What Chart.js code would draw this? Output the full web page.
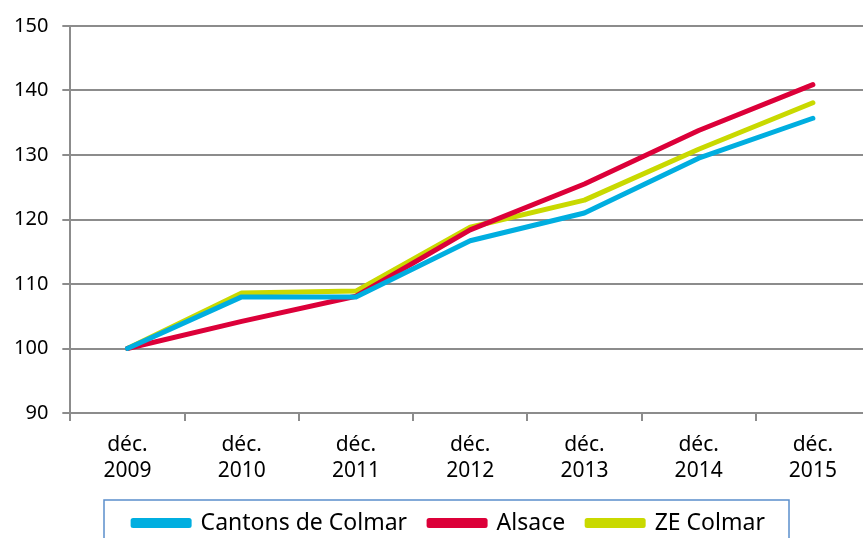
<!DOCTYPE html>
<html>
<head>
<meta charset="utf-8">
<script src="https://cdn.jsdelivr.net/npm/chart.js@4"></script>
<style>
  html, body { margin: 0; padding: 0; background: #fff; overflow: hidden; }
  #wrap { width: 870px; height: 570px; }
</style>
</head>
<body>
<div id="wrap"><canvas id="chart" width="870" height="570"></canvas></div>
<script>
// Data
const years = ['2009', '2010', '2011', '2012', '2013', '2014', '2015'];
const cantonsColmar = [100, 108.0, 108.0, 116.7, 121.0, 129.5, 135.7];
const alsace = [100, 104.2, 108.1, 118.4, 125.5, 133.8, 140.9];
const zeColmar = [100, 108.6, 108.9, 118.8, 123.0, 130.9, 138.1];
const yTicks = [90, 100, 110, 120, 130, 140, 150];

const labels = years.map(y => ['déc.', y]);

function makeDataset(label, data, color) {
    return {
        label: label,
        data: data,
        borderColor: color,
        backgroundColor: color,
        borderWidth: 5,
        borderCapStyle: 'round',
        borderJoinStyle: 'round',
        pointRadius: 0,
        tension: 0
    };
}

// legend sits a bit right of centre in the original, and has a frame
const legendFrame = {
    id: 'legendFrame',
    afterLayout(chart) {
        chart.legend.left += 14;
        chart.legend.right += 14;
    },
    afterDraw(chart) {
        const lg = chart.legend;
        const ctx = chart.ctx;
        ctx.save();
        ctx.strokeStyle = '#5b8fcc';
        ctx.lineWidth = 1.5;
        ctx.strokeRect(104, lg.top + 10.5, 685, lg.height + 20);
        ctx.restore();
    }
};

const gridColor = '#8c8c8c';

new Chart(document.getElementById('chart').getContext('2d'), {
    type: 'line',
    data: {
        labels: labels,
        datasets: [
            makeDataset('Cantons de Colmar', cantonsColmar, '#00aee0'),
            makeDataset('Alsace', alsace, '#dc0039'),
            makeDataset('ZE Colmar', zeColmar, '#c9d900')
        ]
    },
    options: {
        responsive: false,
        animation: false,
        layout: {
            padding: { top: 18, right: 0, left: 0, bottom: 25.5 }
        },
        scales: {
            x: {
                offset: true,
                afterFit(scale) {
                    scale.height = 76.5;
                },
                grid: {
                    offset: true,
                    drawOnChartArea: false,
                    drawTicks: true,
                    tickLength: 8,
                    color: gridColor,
                    lineWidth: 2
                },
                border: { color: gridColor, width: 2 },
                ticks: {
                    color: '#000',
                    padding: 10.75,
                    maxRotation: 0,
                    font: { family: 'Noto Sans', size: 21, lineHeight: 1.262 }
                }
            },
            y: {
                min: 90,
                max: 150,
                afterBuildTicks(scale) {
                    scale.ticks = yTicks.map(v => ({ value: v }));
                },
                grid: {
                    color: gridColor,
                    lineWidth: 2,
                    tickLength: 8
                },
                border: { color: gridColor, width: 2 },
                ticks: {
                    color: '#000',
                    padding: 14,
                    font: { family: 'Noto Sans', size: 20 }
                }
            }
        },
        plugins: {
            legend: {
                position: 'bottom',
                labels: {
                    color: '#000',
                    boxWidth: 56,
                    boxHeight: 5,
                    padding: 22,
                    font: { family: 'Noto Sans', size: 23 }
                }
            },
            tooltip: { enabled: false }
        }
    },
    plugins: [legendFrame]
});
</script>
</body>
</html>
